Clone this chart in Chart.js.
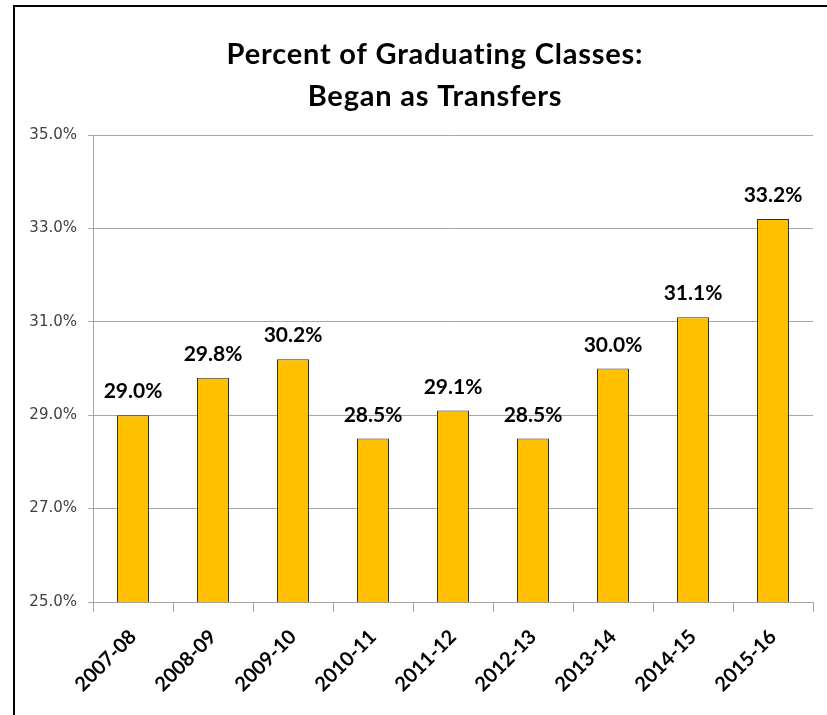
<!DOCTYPE html>
<html>
<head>
<meta charset="utf-8">
<script src="https://cdn.jsdelivr.net/npm/chart.js"></script>
<style>
    body { margin: 0; background: #fff; }
    #frame {
        position: absolute; left: 13px; top: 5px; width: 814px; height: 708px;
        border-left: 2px solid #000; border-top: 2px solid #000; border-bottom: 1px solid #bfbfbf;
    }
    #demo-chart { position: absolute; left: 0; top: 0; }
</style>
</head>
<body>
<div id="frame"></div>
<canvas id="demo-chart" width="827" height="715"></canvas>
<script>
var years = ['2007-08', '2008-09', '2009-10', '2010-11', '2011-12', '2012-13', '2013-14', '2014-15', '2015-16'];
var transferPct = [29.0, 29.8, 30.2, 28.5, 29.1, 28.5, 30.0, 31.1, 33.2];
var titleLines = ['Percent of Graduating Classes:', 'Began as Transfers'];
var yMin = 25, yMax = 35, yStep = 2;

var titlePlugin = {
    id: 'titleText',
    afterDraw(chart) {
        var ctx = chart.ctx;
        ctx.save();
        ctx.font = 'bold 29px Lato';
        ctx.letterSpacing = '0.8px';
        ctx.fillStyle = '#000';
        ctx.textAlign = 'center';
        ctx.textBaseline = 'middle';
        ctx.fillText(titleLines[0], 435, 55);
        ctx.fillText(titleLines[1], 435, 97);
        ctx.letterSpacing = '0px';
        ctx.restore();
    }
};

var barLabels = {
    id: 'barLabels',
    afterDatasetsDraw(chart) {
        var ctx = chart.ctx;
        var meta = chart.getDatasetMeta(0);
        ctx.save();
        ctx.letterSpacing = '0px';
        ctx.font = 'bold 21px Lato';
        ctx.fillStyle = '#000';
        ctx.textAlign = 'center';
        ctx.textBaseline = 'alphabetic';
        meta.data.forEach(function (bar, i) {
            ctx.fillText(transferPct[i].toFixed(1) + '%', bar.x, bar.y - 17);
        });
        ctx.restore();
    }
};

var _chart = new Chart(document.getElementById('demo-chart'), {
    type: 'bar',
    data: {
        labels: years,
        datasets: [{
            data: transferPct,
            backgroundColor: '#FFC000',
            borderColor: '#333333',
            borderWidth: 1,
            barPercentage: 0.4,
            categoryPercentage: 1
        }]
    },
    options: {
        responsive: false,
        animation: false,
        devicePixelRatio: 1,
        layout: { padding: { left: 14, right: 14, top: 135, bottom: 13 } },
        plugins: { legend: { display: false }, title: { display: false }, tooltip: { enabled: false } },
        scales: {
            x: {
                grid: { drawOnChartArea: false, tickLength: 10, color: '#a6a6a6', offset: true },
                border: { color: '#a6a6a6' },
                ticks: { minRotation: 45, maxRotation: 45, padding: 13, color: '#000', font: { family: 'Lato', size: 20, weight: 'bold' } },
                afterFit(scale) { scale.height = 100; }
            },
            y: {
                min: yMin,
                max: yMax,
                grid: { color: '#a6a6a6', tickLength: 5 },
                border: { color: '#a6a6a6' },
                ticks: {
                    stepSize: yStep,
                    padding: 11,
                    color: '#404040',
                    font: { family: 'DejaVu Sans', size: 15 },
                    callback: function (v) { return v.toFixed(1) + '%'; }
                },
                afterFit(scale) { scale.width = 79; }
            }
        }
    },
    plugins: [titlePlugin, barLabels]
});
</script>
</body>
</html>
